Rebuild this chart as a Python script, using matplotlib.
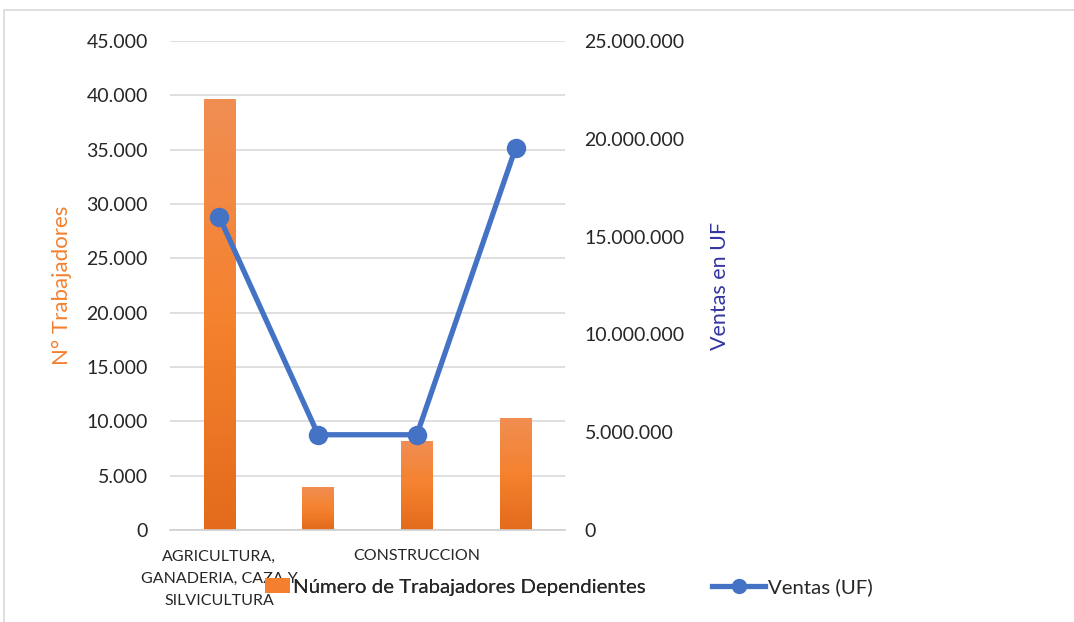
import matplotlib
matplotlib.use("Agg")
import matplotlib.pyplot as plt
import numpy as np
from matplotlib.patches import Rectangle
from matplotlib.lines import Line2D
from matplotlib.patches import Patch
from matplotlib.ticker import FuncFormatter
from matplotlib.colors import LinearSegmentedColormap

categories = ["AGRICULTURA,\nGANADERIA, CAZA Y\nSILVICULTURA", "", "CONSTRUCCION", ""]
trabajadores = [39650, 4000, 8200, 10350]
ventas = [16000000, 4870000, 4870000, 19530000]
left_ticks = [0, 5000, 10000, 15000, 20000, 25000, 30000, 35000, 40000, 45000]
right_ticks = [0, 5000000, 10000000, 15000000, 20000000, 25000000]

plt.rcParams['font.family'] = ['Lato', 'DejaVu Sans']

fig = plt.figure(figsize=(10.74, 6.22), dpi=100)
fig.patches.append(Rectangle((4/1074, -0.1), 1.2, 1 - 10/622 + 0.1, transform=fig.transFigure,
                             fill=False, edgecolor='#D9D9D9', linewidth=1.2))
ax = fig.add_axes([170/1074, 1 - 530/622, 395/1074, 489/622])
ax2 = ax.twinx()

x = np.arange(len(categories))
bars = ax.bar(x, trabajadores, width=0.32, color='#F47F2E', zorder=2)
cmap = LinearSegmentedColormap.from_list('g', ['#E36B1B', '#F5822F', '#F08E52'])
grad = np.linspace(0, 1, 256).reshape(-1, 1)
for b in bars:
    bx, by, bw, bh = b.get_x(), b.get_y(), b.get_width(), b.get_height()
    im = ax.imshow(grad, cmap=cmap, origin='lower', aspect='auto',
                   extent=[bx, bx + bw, by, by + bh], zorder=2.1)
    im.set_clip_path(b)
ax.set_xlim(-0.5, 3.5)
ax.set_ylim(0, 45000)
ax.set_yticks(left_ticks)
fmt = FuncFormatter(lambda v, p: f"{int(v):,}".replace(",", "."))
ax.yaxis.set_major_formatter(fmt)
ax.grid(axis='y', color='#D9D9D9', linewidth=1.2, zorder=0)
ax.set_axisbelow(True)
ax.set_xticks(x)
ax.set_xticklabels(categories, fontsize=11.5, linespacing=1.75, color='#262626')
ax.tick_params(axis='x', length=0, pad=14)
ax.tick_params(axis='y', length=0, pad=16, labelsize=14, labelcolor='#262626')
for s in ['top', 'right', 'left']:
    ax.spines[s].set_visible(False)
ax.spines['bottom'].set_color('#D0D0D0')
ax.spines['bottom'].set_linewidth(1.2)
ax.set_ylabel("N° Trabajadores", color='#F47F2E', fontsize=16, labelpad=10)

ax2.plot(x, ventas, color='#4472C4', linewidth=3.8, marker='o', markersize=13, zorder=3)
ax2.set_ylim(0, 25000000)
ax2.set_yticks(right_ticks)
ax2.yaxis.set_major_formatter(fmt)
ax2.tick_params(axis='y', length=0, pad=14, labelsize=14, labelcolor='#262626')
for s in ['top', 'right', 'left', 'bottom']:
    ax2.spines[s].set_visible(False)
ax2.set_ylabel("Ventas en UF", color='#3535A0', fontsize=15.5, labelpad=18)

fs = 14.7
em = fs * 100 / 72
leg1 = fig.legend([Patch(facecolor='#F47F2E', edgecolor='none')],
                  ["Número de Trabajadores Dependientes"],
                  loc='center left', bbox_to_anchor=(265/1074, 1 - 587/622), frameon=False,
                  fontsize=fs, handlelength=25/em, handleheight=0.75, handletextpad=3/em,
                  borderpad=0, borderaxespad=0, labelcolor='#262626')
leg2 = fig.legend([Line2D([0], [0], color='#4472C4', linewidth=3.8, marker='o', markersize=10)],
                  ["Ventas (UF)"],
                  loc='center left', bbox_to_anchor=(712/1074, 1 - 587/622), frameon=False,
                  fontsize=fs, handlelength=53/em, handletextpad=3/em,
                  borderpad=0, borderaxespad=0, labelcolor='#262626')
fig.add_artist(leg1)

fig.savefig("out.png", dpi=100)
